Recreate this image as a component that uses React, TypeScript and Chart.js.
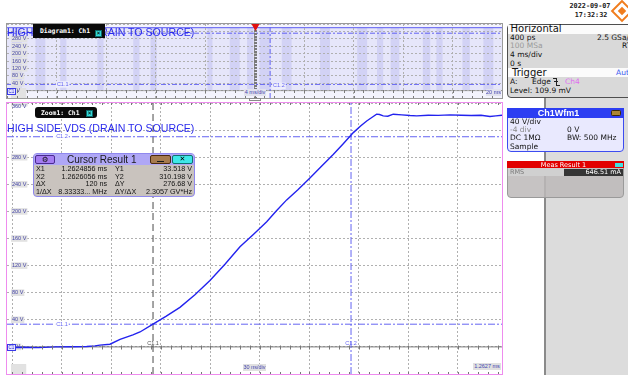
import React, { useEffect, useRef } from "react";
import { Chart, registerables } from "chart.js";

Chart.register(...registerables);

// ---------- Zoom diagram (Zoom1: Ch1), 30 ns/div ----------
// time in ns from the first vertical grid line of the zoom window, Ch1 voltage in V
const zoomTimeNs = [
  -3.3, 6, 16, 26, 36, 45, 50, 53, 59.1, 65.2, 73, 77.3, 85.2, 93, 101.5, 110.6, 119.7, 128.8,
  137.9, 146, 154.1, 160, 166.2, 173, 180.3, 187, 194.4, 200.5, 206.6, 211, 214.7, 218, 220.7,
  222.5, 224.7, 227.5, 230.8, 236, 241, 245, 252, 258, 265.2, 272, 278, 284, 289.4, 293, 296.7,
];
const zoomVolts = [
  -0.8, -0.6, -1.0, 0, 0.3, 0.5, 1.5, 2.7, 4, 11, 17.8, 22, 33.5, 45, 58.4, 77, 98, 122,
  147.7, 166, 184.8, 201, 217, 232, 249.4, 266, 284, 300, 316.3, 326, 333.5, 339, 343.5,
  343, 341, 340.5, 343.5, 342.5, 341.5, 341, 342, 341.8, 342.5, 342, 341.5, 342, 340.1, 341, 342,
];
const zoomRangeNs = [-3.3, 296.7];
const zoomGridNs = [0, 30, 60, 90, 120, 150, 180, 210, 240, 270];
const zoomMinorStepNs = 6;

// ---------- vertical scale (40 V/div, -4 div offset) ----------
const voltRange = [-40, 360];
const voltGrid = [-40, 0, 40, 80, 120, 160, 200, 240, 280, 320, 360];
const zoomHiddenVolts = [320];
const overviewHiddenVolts = [320, 360];
const voltMinorStep = 8;

// ---------- cursors C1 ----------
const cursorTimesNs = [85.2, 205.2]; // X1, X2 inside the zoom window
const cursorVolts = [33.518, 310.198]; // Y1, Y2
const cursorTimeMs = 1.2625; // both cursors on the overview
const cursorTagTimeNs = 30;
const cursorTagTimeMs = -15.5;

// ---------- overview diagram (Diagram1: Ch1), 4 ms/div ----------
const overviewRangeMs = [-20, 20];
const overviewGridMs = [-16, -12, -8, -4, 0, 4, 8, 12, 16];
const overviewMinorStepMs = 0.8;
const envelopeTimesMs = [-20, 20];
const envelopeVolts = [340, 340];
const stripeStartMs = [-19.6, -17.7, -15.7, -12.7, -9.8, -8.4, -3.8, -2.0, -0.6, 0.4, 2.2, 5.3, 8.3, 9.9, 11.0, 13.6, 14.7, 16.8, 18.5];
const stripeEndMs = [-18.8, -16.9, -15.2, -12.2, -9.3, -7.9, -3.4, -1.2, -0.1, 1.3, 3.0, 6.1, 9.1, 10.4, 11.7, 14.2, 15.2, 17.4, 19.3];

// ---------- cursor result table ----------
const cursorRows = [
  ["X1", "1.2624856 ms", "Y1", "33.518 V"],
  ["X2", "1.2626056 ms", "Y2", "310.198 V"],
  ["ΔX", "120 ns", "ΔY", "276.68 V"],
  ["1/ΔX", "8.33333... MHz", "ΔY/ΔX", "2.3057 GV*Hz"],
];

const TITLE = "HIGH SIDE VDS (DRAIN TO SOURCE)";
const SANS = '"Liberation Sans", Arial, sans-serif';
const DEJAVU = '"DejaVu Sans", sans-serif';
const BLUE = "#2a2aec";
const CURSOR_BLUE = "#6464f2";

function voltTicks(hidden: number[], z: number) {
  return {
    mirror: true,
    padding: 5,
    autoSkip: false,
    z,
    color: "#4646a6",
    font: { family: SANS, size: 5.5 },
    showLabelBackdrop: true,
    backdropColor: (c: any) => (hidden.includes(c?.tick?.value) ? "rgba(0,0,0,0)" : "#e2e2e2"),
    backdropPadding: { top: 0, bottom: 0, left: 1, right: 1 },
    callback: (v: number) => {
      if (hidden.includes(v)) return "";
      const s = `${v} V`;
      if (v === voltRange[0]) return [s, ""];
      if (v === voltRange[1]) return ["", s];
      return s;
    },
  };
}

const noPadding = (s: any) => {
  s.paddingTop = 0;
  s.paddingBottom = 0;
  s.paddingLeft = 0;
  s.paddingRight = 0;
};

function timeScale(range: number[], grid: number[], z = -1) {
  return {
    type: "linear",
    min: range[0],
    max: range[1],
    afterBuildTicks: (s: any) => {
      s.ticks = grid.map((value) => ({ value }));
    },
    afterFit: (s: any) => {
      s.height = 0;
      noPadding(s);
    },
    ticks: { display: false },
    grid: { color: "#b0b0b0", lineWidth: 1, drawTicks: false, z },
    border: { display: false, dash: [2, 2] },
  };
}

function voltScale(hidden: number[], z = -1) {
  return {
    type: "linear",
    min: voltRange[0],
    max: voltRange[1],
    afterBuildTicks: (s: any) => {
      s.ticks = voltGrid.map((value) => ({ value }));
    },
    afterFit: (s: any) => {
      s.width = 0;
      noPadding(s);
    },
    ticks: voltTicks(hidden, z > 0 ? 2 : 0),
    grid: { color: "#b0b0b0", lineWidth: 1, drawTicks: false, z },
    border: { display: false, dash: [2, 2] },
  };
}

const flatLine = (v: number, range: number[], color: string, dash: number[], width = 1) => ({
  data: [
    { x: range[0], y: v },
    { x: range[1], y: v },
  ],
  borderColor: color,
  borderDash: dash,
  borderWidth: width,
  pointRadius: 0,
  fill: false,
});
const upLine = (t: number, color: string, dash: number[], width = 1) => ({
  data: [
    { x: t, y: voltRange[0] },
    { x: t, y: voltRange[1] },
  ],
  borderColor: color,
  borderDash: dash,
  borderWidth: width,
  pointRadius: 0,
  fill: false,
});

function tag(ctx: CanvasRenderingContext2D, text: string, x: number, y: number, color: string, bg: string | null, align: "center" | "left" = "center", size = 5.5) {
  ctx.font = `${size}px ${SANS}`;
  const w = ctx.measureText(text).width;
  const left = align === "center" ? x - w / 2 : x;
  if (bg) {
    ctx.fillStyle = bg;
    ctx.fillRect(left - 1, y - size / 2 - 0.5, w + 2, size + 1);
  }
  ctx.fillStyle = color;
  ctx.textAlign = "left";
  ctx.textBaseline = "middle";
  ctx.fillText(text, left, y);
}

function channelMarker(ctx: CanvasRenderingContext2D, x: number, y: number) {
  ctx.fillStyle = "#e6e6ff";
  ctx.fillRect(x + 0.5, y - 3, 8, 6);
  ctx.strokeStyle = "#3a3ae8";
  ctx.lineWidth = 1;
  ctx.strokeRect(x + 0.5, y - 3, 8, 6);
  ctx.fillStyle = "#2a2ad0";
  ctx.font = `4.5px ${SANS}`;
  ctx.textAlign = "left";
  ctx.textBaseline = "middle";
  ctx.fillText("C1", x + 1.6, y + 0.3);
}

function minorTicks(ctx: CanvasRenderingContext2D, scale: any, step: number, along: "x" | "y", at: number, len: number, sides: "both" | "down" | "up") {
  const start = Math.ceil(scale.min / step) * step;
  ctx.beginPath();
  for (let v = start; v <= scale.max + 1e-9; v += step) {
    const p = Math.round(scale.getPixelForValue(v)) + 0.5;
    const a = sides === "up" ? 0 : len;
    const b = sides === "down" ? 0 : len;
    if (along === "x") {
      ctx.moveTo(p, at - b);
      ctx.lineTo(p, at + a);
    } else {
      ctx.moveTo(at - len, p);
      ctx.lineTo(at + len, p);
    }
  }
  ctx.stroke();
}

const zoomDecor = {
  id: "zoomDecor",
  afterDatasetsDraw(chart: any) {
    const { ctx, chartArea: a, scales } = chart;
    const { x, y } = scales;
    const y0 = Math.round(y.getPixelForValue(0)) + 0.5;
    ctx.save();
    ctx.strokeStyle = "#777";
    ctx.lineWidth = 1;
    minorTicks(ctx, x, zoomMinorStepNs, "x", y0, 2, "both");
    minorTicks(ctx, x, zoomMinorStepNs, "x", a.top, 2, "down");
    minorTicks(ctx, x, zoomMinorStepNs, "x", a.bottom, 2, "up");
    tag(ctx, "C1.1", x.getPixelForValue(cursorTagTimeNs), y.getPixelForValue(cursorVolts[0]), CURSOR_BLUE, "#ffffff");
    tag(ctx, "C1.2", x.getPixelForValue(cursorTagTimeNs), y.getPixelForValue(cursorVolts[1]), CURSOR_BLUE, "#ffffff");
    tag(ctx, "C1.1", x.getPixelForValue(cursorTimesNs[0]), y0 - 4, "#505050", null);
    tag(ctx, "C1.2", x.getPixelForValue(cursorTimesNs[1]), y0 - 4, CURSOR_BLUE, null);
    channelMarker(ctx, a.left, y0);
    ctx.restore();
  },
};

const overviewDecor = {
  id: "overviewDecor",
  afterDraw(chart: any) {
    const { ctx, chartArea: a, scales } = chart;
    const { x, y } = scales;
    const y0 = Math.round(y.getPixelForValue(0)) + 0.5;
    const x0 = Math.round(x.getPixelForValue(0)) + 0.5;
    ctx.save();
    ctx.strokeStyle = "#7a7a7a";
    ctx.lineWidth = 1;
    minorTicks(ctx, x, overviewMinorStepMs, "x", y0, 1.5, "both");
    minorTicks(ctx, y, voltMinorStep, "y", x0, 1.5, "both");
    minorTicks(ctx, x, overviewMinorStepMs, "x", a.bottom, 2, "up");
    tag(ctx, "C1.1", x.getPixelForValue(cursorTagTimeMs), y.getPixelForValue(cursorVolts[0]), CURSOR_BLUE, "#eeeefc");
    tag(ctx, "C1.2", x.getPixelForValue(cursorTimeMs) + 3, y.getPixelForValue(cursorVolts[0]) + 1.5, CURSOR_BLUE, "#eeeefc", "left");
    channelMarker(ctx, a.left, y0);
    // trigger marker
    ctx.fillStyle = "#e01010";
    ctx.beginPath();
    ctx.moveTo(x0 - 4, a.top);
    ctx.lineTo(x0 + 4, a.top);
    ctx.lineTo(x0, a.top + 7);
    ctx.closePath();
    ctx.fill();
    ctx.restore();
  },
};

const baseOptions = {
  animation: false,
  responsive: false,
  events: [],
  layout: { padding: 0, autoPadding: false },
  plugins: { legend: { display: false }, tooltip: { enabled: false } },
};

function buildZoom() {
  const wave = zoomTimeNs.map((t, i) => ({ x: t, y: zoomVolts[i] }));
  return {
    type: "line",
    data: {
      datasets: [
        { data: wave, borderColor: "#2222ee", borderWidth: 1.4, pointRadius: 0, fill: false, tension: 0 },
        flatLine(cursorVolts[0], zoomRangeNs, CURSOR_BLUE, [7, 2, 2, 2]),
        flatLine(cursorVolts[1], zoomRangeNs, CURSOR_BLUE, [7, 2, 2, 2]),
        upLine(cursorTimesNs[1], CURSOR_BLUE, [7, 2, 2, 2]),
        upLine(cursorTimesNs[0], "#4a4a4a", [7, 4]),
        flatLine(0, zoomRangeNs, "#7a7a7a", []),
      ],
    },
    options: {
      ...baseOptions,
      scales: { x: timeScale(zoomRangeNs, zoomGridNs), y: voltScale(zoomHiddenVolts) },
    },
    plugins: [zoomDecor],
  };
}

function buildOverview() {
  const stripes: { x: number; y: number }[] = [{ x: overviewRangeMs[0], y: 0 }];
  stripeStartMs.forEach((s, i) => {
    stripes.push({ x: s, y: envelopeVolts[0] });
    stripes.push({ x: stripeEndMs[i], y: 0 });
  });
  stripes.push({ x: overviewRangeMs[1], y: 0 });
  const envelope = envelopeTimesMs.map((t, i) => ({ x: t, y: envelopeVolts[i] }));
  return {
    type: "line",
    data: {
      datasets: [
        flatLine(cursorVolts[0], overviewRangeMs, CURSOR_BLUE, [5, 2, 2, 2]),
        flatLine(cursorVolts[1], overviewRangeMs, CURSOR_BLUE, [5, 2, 2, 2]),
        upLine(cursorTimeMs, CURSOR_BLUE, [5, 2, 2, 2]),
        flatLine(0, overviewRangeMs, "#8a8a8a", []),
        upLine(0, "#8a8a8a", []),
        { data: envelope, borderColor: "#5a5af0", borderWidth: 1, pointRadius: 0, fill: false },
        { data: stripes, stepped: true, borderColor: "rgba(0,0,0,0)", borderWidth: 0, pointRadius: 0, fill: "origin", backgroundColor: "#d2d2f5" },
        { data: envelope, borderColor: "rgba(0,0,0,0)", borderWidth: 0, pointRadius: 0, fill: "origin", backgroundColor: "#e6e6fa" },
      ],
    },
    options: {
      ...baseOptions,
      scales: { x: timeScale(overviewRangeMs, overviewGridMs, 1), y: voltScale(overviewHiddenVolts, 1) },
    },
    plugins: [overviewDecor],
  };
}

function ScopeCanvas(props: { left: number; top: number; width: number; height: number; frame: string; background: string; build: () => any }) {
  const { left, top, width, height, frame, background, build } = props;
  const ref = useRef<HTMLCanvasElement>(null);
  useEffect(() => {
    const chart = new Chart(ref.current as HTMLCanvasElement, build());
    return () => chart.destroy();
  }, []);
  return (
    <div
      style={{
        position: "absolute",
        left: left - 1,
        top: top - 1,
        width: width + 2,
        height: height + 2,
        border: `1px solid ${frame}`,
        boxSizing: "border-box",
        background,
      }}
    >
      <canvas ref={ref} width={width} height={height} style={{ display: "block", width, height }} />
    </div>
  );
}

function T(props: { x: number; y: number; s: number; c?: string; w?: number; f?: string; a?: "left" | "right" | "center"; children: any }) {
  const { x, y, s, c = "#111", w = 400, f = DEJAVU, a = "left", children } = props;
  const lh = Math.round(s * 1.3);
  const style: any = {
    position: "absolute",
    top: y - lh / 2,
    fontSize: s,
    lineHeight: `${lh}px`,
    color: c,
    fontWeight: w,
    fontFamily: f,
    whiteSpace: "pre",
  };
  if (a === "left") style.left = x;
  else if (a === "right") {
    style.left = x - 300;
    style.width = 300;
    style.textAlign = "right";
  } else {
    style.left = x - 150;
    style.width = 300;
    style.textAlign = "center";
  }
  return <div style={style}>{children}</div>;
}

function B(props: { x: number; y: number; w: number; h: number; bg?: string; border?: string; r?: any; children?: any }) {
  const { x, y, w, h, bg = "transparent", border = "none", r = 0, children } = props;
  return (
    <div style={{ position: "absolute", left: x, top: y, width: w, height: h, background: bg, border, borderRadius: r, boxSizing: "border-box" }}>
      {children}
    </div>
  );
}

function ScaleNote(props: { x: number; y: number; w: number; text: string; bg: string }) {
  return (
    <div
      style={{
        position: "absolute",
        left: props.x,
        top: props.y,
        width: props.w,
        height: 7,
        background: props.bg,
        color: "#4646b0",
        fontFamily: SANS,
        fontSize: 5.5,
        lineHeight: "7px",
        textAlign: "center",
        whiteSpace: "pre",
      }}
    >
      {props.text}
    </div>
  );
}

export default function App() {
  return (
    <div style={{ position: "relative", width: 628, height: 375, overflow: "hidden", background: "#ffffff", fontFamily: DEJAVU }}>
      <style>{"body{margin:0}"}</style>

      {/* right side panel background */}
      <B x={546} y={97} w={82} h={278} bg="#dcdcdc" />
      <B x={544} y={97} w={2} h={278} bg="#8a8a8a" />

      {/* overview diagram */}
      <ScopeCanvas left={7} top={24} width={495} height={74} frame="#9a9a9a" background="#f3f3fd" build={buildOverview} />
      <T x={7} y={32} s={10.6} c={BLUE} f={SANS}>{TITLE}</T>
      <B x={33} y={24} w={72} h={14} bg="#0a0a0a" r="0 0 4 4" />
      <T x={40} y={31} s={6.4} c="#ffffff" f={'"DejaVu Sans Mono", monospace'} w={700}>Diagram1: Ch1</T>
      <B x={95} y={29.5} w={7} h={7} bg="#34d8d8" border="1px solid #0a6a6a" />
      <T x={98.5} y={33} s={5.5} c="#000" a="center" w={700}>✕</T>
      <ScaleNote x={244} y={89} w={22} text="4 ms/div" bg="#e2e2ee" />
      <ScaleNote x={486} y={89} w={15} text="20 ms" bg="#e2e2ee" />

      {/* splitter handle */}
      <B x={249} y={98} w={12} h={3} border="1px solid #8a8a8a" />

      {/* zoom diagram */}
      <ScopeCanvas left={7} top={103} width={495} height={271} frame="#ee8cee" background="#ffffff" build={buildZoom} />
      <B x={35} y={107} w={62} h={11} bg="#0a0a0a" r={3} />
      <T x={41} y={112.5} s={6.4} c="#ffffff" f={'"DejaVu Sans Mono", monospace'} w={700}>Zoom1: Ch1</T>
      <B x={86} y={109.5} w={7} h={7} bg="#34d8d8" border="1px solid #0a6a6a" />
      <T x={89.5} y={113} s={5.5} c="#000" a="center" w={700}>✕</T>
      <T x={7} y={128.3} s={10.6} c={BLUE} f={SANS}>{TITLE}</T>
      <ScaleNote x={243} y={364} w={23} text="30 ns/div" bg="#e0e0e0" />
      <ScaleNote x={473} y={363} w={28} text="1.2627 ms" bg="#e0e0e0" />

      {/* cursor result window */}
      <B x={33} y={153} w={162} h={44} bg="#c9c3be" border="1px solid #8f88ee" r={4} />
      <B x={34} y={154} w={160} h={11} bg="#afa7f6" r="3 3 0 0" />
      <B x={35} y={155} w={20} h={9} bg="#a47cf2" border="1px solid #4a2a90" r={2} />
      <T x={45} y={159.5} s={7.5} c="#111" a="center">⚙</T>
      <T x={67} y={159.3} s={10} c="#1a1a1a" f={SANS}>Cursor Result 1</T>
      <B x={150} y={155} w={21} h={9} bg="#a67a4e" border="1px solid #4a2a10" r={2} />
      <B x={157} y={160.5} w={7} h={1.5} bg="#1a1a1a" />
      <B x={172} y={155} w={21} h={9} bg="#3ee8e8" border="1px solid #107070" r={2} />
      <T x={182.5} y={159.5} s={7} c="#000" a="center" w={700}>✕</T>
      {cursorRows.map((row, i) => {
        const y = 168.4 + i * 7.7;
        return (
          <React.Fragment key={i}>
            <T x={36} y={y} s={7.2} f={SANS}>{row[0]}</T>
            <T x={107} y={y} s={7.2} f={SANS} a="right">{row[1]}</T>
            <T x={115} y={y} s={7.2} f={SANS}>{row[2]}</T>
            <T x={192} y={y} s={7.2} f={SANS} a="right">{row[3]}</T>
          </React.Fragment>
        );
      })}

      {/* date and logo */}
      <T x={590} y={6.3} s={6.8} c="#222" w={700} f={'"DejaVu Sans Mono", monospace'} a="center">2022-09-07</T>
      <T x={591} y={15.3} s={6.8} c="#222" w={700} f={'"DejaVu Sans Mono", monospace'} a="center">17:32:32</T>
      <div style={{ position: "absolute", left: 614, top: 3, width: 16, height: 16, border: "2.5px solid #f07d1e", boxSizing: "border-box", transform: "rotate(45deg)" }} />
      <div style={{ position: "absolute", left: 619, top: 8, width: 6, height: 6, background: "#f07d1e", transform: "rotate(45deg)" }} />

      {/* horizontal / trigger panel */}
      <B x={507} y={24} w={140} h={74} bg="#d9d9d9" border="1px solid #4e4e4e" r={4} />
      <B x={508} y={25} w={138} h={8.5} bg="#fbfbfb" r="3 0 0 0" />
      <B x={508} y={68} w={138} h={9} bg="#fbfbfb" />
      <T x={510.5} y={28.8} s={10}>Horizontal</T>
      <T x={510} y={37.5} s={7.5}>400 ps</T>
      <T x={597} y={37.5} s={7.5}>2.5 GSa/s</T>
      <T x={510} y={46.2} s={7.5} c="#9a9a9a">100 MSa</T>
      <T x={622} y={46.2} s={7.5}>RT</T>
      <T x={510} y={55} s={7.5}>4 ms/div</T>
      <T x={510} y={63.5} s={7.5}>0 s</T>
      <T x={512} y={72.7} s={10}>Trigger</T>
      <T x={616} y={72.7} s={7.5} c="#3a5af0">Auto</T>
      <T x={510} y={81.8} s={7.5}>A:</T>
      <T x={532} y={81.8} s={7.5}>Edge</T>
      <B x={553} y={78} w={3} h={1} bg="#222" />
      <B x={555.5} y={78} w={1} h={7} bg="#222" />
      <B x={555.5} y={84.5} w={4} h={1} bg="#222" />
      <B x={553.5} y={81} w={4} h={1} bg="#222" />
      <T x={565} y={81.8} s={7.5} c="#e070f0">Ch4</T>
      <T x={510} y={90.8} s={7.5}>Level: 109.9 mV</T>

      {/* channel window */}
      <B x={507} y={108} w={117} h={44} bg="#e9e9fe" border="1px solid #3c4cf0" r={4} />
      <B x={507} y={108} w={117} h={10} bg="#2d3ef2" r="4 4 0 0" />
      <T x={558.5} y={113.2} s={9} c="#ffffff" w={700} f={SANS} a="center">Ch1Wfm1</T>
      <B x={611} y={110} w={10} h={6} bg="#ab8634" border="1px solid #3a2a08" r={1.5} />
      <T x={510} y={121.7} s={7.5}>40 V/div</T>
      <T x={510} y={129.6} s={7.5} c="#8a8a8a">-4 div</T>
      <T x={567} y={129.6} s={7.5}>0 V</T>
      <T x={510} y={138.3} s={7.5}>DC 1MΩ</T>
      <T x={567} y={138.3} s={7.5}>BW: 500 MHz</T>
      <T x={510} y={146.7} s={7.5}>Sample</T>

      {/* measurement window */}
      <B x={507} y={161} w={117} h={37} bg="rgba(188,184,184,0.85)" border="1px solid #9a9a9a" r={4} />
      <B x={507} y={161} w={117} h={7} bg="#e20000" r="4 4 0 0" />
      <T x={563.5} y={164.5} s={6.5} c="#ffffff" a="center">Meas Result 1</T>
      <B x={615} y={162.5} w={8} h={4} bg="#40e0e0" />
      <B x={508} y={168} w={56} h={8} bg="#d0d0d0" />
      <T x={510} y={172.2} s={6.5} c="#7a7a7a">RMS</T>
      <B x={564} y={169} w={59} h={7} bg="#353535" />
      <T x={621} y={172.4} s={6.5} c="#ffffff" a="right">646.51 mA</T>
    </div>
  );
}
